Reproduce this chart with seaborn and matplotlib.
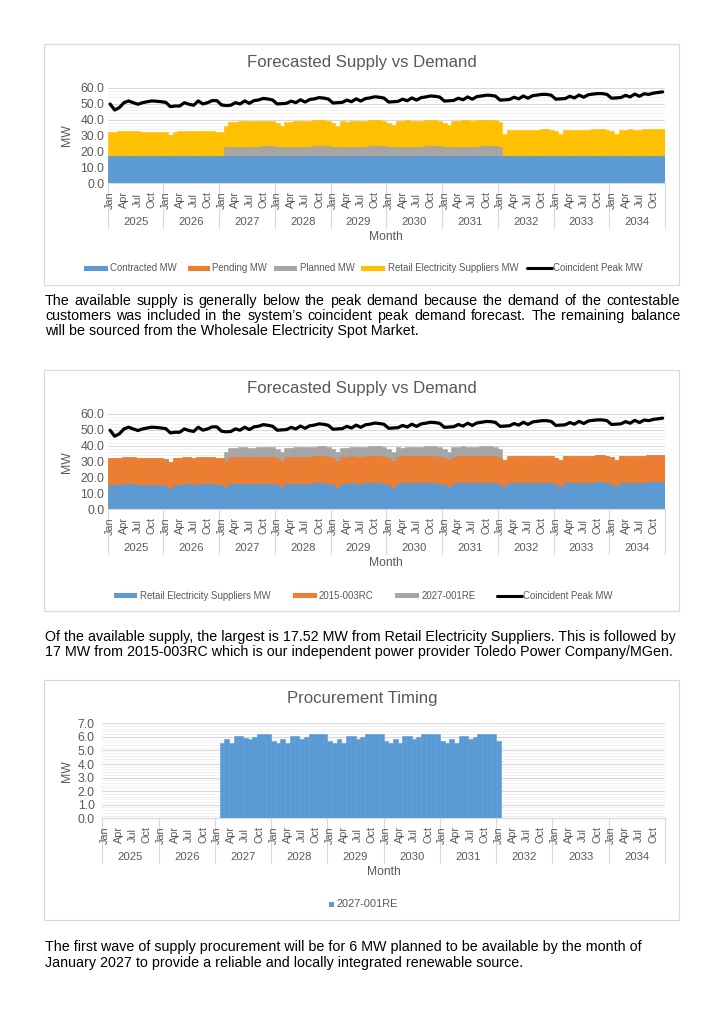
import numpy as np
import pandas as pd
import matplotlib
matplotlib.use("Agg")
import matplotlib.pyplot as plt
from matplotlib.lines import Line2D
from matplotlib.patches import Rectangle
from matplotlib.ticker import MultipleLocator, FormatStrFormatter
import seaborn as sns

# ---------------- data ----------------
years = [2025, 2026, 2027, 2028, 2029, 2030, 2031, 2032, 2033, 2034]
month_names = ["Jan", "Feb", "Mar", "Apr", "May", "Jun", "Jul", "Aug", "Sep", "Oct", "Nov", "Dec"]
shown_months = ["Jan", "Apr", "Jul", "Oct"]

contracted_mw = [
    17.0, 17.0, 17.0, 17.0, 17.0, 17.0, 17.0, 17.0, 17.0, 17.0, 17.0, 17.0,
    17.0, 17.0, 17.0, 17.0, 17.0, 17.0, 17.0, 17.0, 17.0, 17.0, 17.0, 17.0,
    17.0, 17.0, 17.0, 17.0, 17.0, 17.0, 17.0, 17.0, 17.0, 17.0, 17.0, 17.0,
    17.0, 17.0, 17.0, 17.0, 17.0, 17.0, 17.0, 17.0, 17.0, 17.0, 17.0, 17.0,
    17.0, 17.0, 17.0, 17.0, 17.0, 17.0, 17.0, 17.0, 17.0, 17.0, 17.0, 17.0,
    17.0, 17.0, 17.0, 17.0, 17.0, 17.0, 17.0, 17.0, 17.0, 17.0, 17.0, 17.0,
    17.0, 17.0, 17.0, 17.0, 17.0, 17.0, 17.0, 17.0, 17.0, 17.0, 17.0, 17.0,
    17.0, 17.0, 17.0, 17.0, 17.0, 17.0, 17.0, 17.0, 17.0, 17.0, 17.0, 17.0,
    17.0, 17.0, 17.0, 17.0, 17.0, 17.0, 17.0, 17.0, 17.0, 17.0, 17.0, 17.0,
    17.0, 17.0, 17.0, 17.0, 17.0, 17.0, 17.0, 17.0, 17.0, 17.0, 17.0, 17.0,
]
pending_mw = [
    0, 0, 0, 0, 0, 0, 0, 0, 0, 0, 0, 0,
    0, 0, 0, 0, 0, 0, 0, 0, 0, 0, 0, 0,
    0, 0, 0, 0, 0, 0, 0, 0, 0, 0, 0, 0,
    0, 0, 0, 0, 0, 0, 0, 0, 0, 0, 0, 0,
    0, 0, 0, 0, 0, 0, 0, 0, 0, 0, 0, 0,
    0, 0, 0, 0, 0, 0, 0, 0, 0, 0, 0, 0,
    0, 0, 0, 0, 0, 0, 0, 0, 0, 0, 0, 0,
    0, 0, 0, 0, 0, 0, 0, 0, 0, 0, 0, 0,
    0, 0, 0, 0, 0, 0, 0, 0, 0, 0, 0, 0,
    0, 0, 0, 0, 0, 0, 0, 0, 0, 0, 0, 0,
]
# 2027-001RE (planned) MW
planned_mw = [
    0, 0, 0, 0, 0, 0, 0, 0, 0, 0, 0, 0,
    0, 0, 0, 0, 0, 0, 0, 0, 0, 0, 0, 0,
    0, 5.55, 5.85, 5.55, 6.07, 6.05, 5.95, 5.85, 5.97, 6.2, 6.2, 6.2,
    5.7, 5.58, 5.85, 5.58, 6.07, 6.05, 5.85, 5.97, 6.2, 6.2, 6.2, 6.2,
    5.7, 5.58, 5.85, 5.58, 6.07, 6.05, 5.85, 5.97, 6.2, 6.2, 6.2, 6.2,
    5.7, 5.58, 5.85, 5.58, 6.07, 6.05, 5.85, 5.97, 6.2, 6.2, 6.2, 6.2,
    5.7, 5.58, 5.85, 5.58, 6.07, 6.05, 5.85, 5.97, 6.2, 6.2, 6.2, 6.2,
    5.72, 0, 0, 0, 0, 0, 0, 0, 0, 0, 0, 0,
    0, 0, 0, 0, 0, 0, 0, 0, 0, 0, 0, 0,
    0, 0, 0, 0, 0, 0, 0, 0, 0, 0, 0, 0,
]
retail_mw = [
    15.0, 15.3, 15.6, 15.8, 15.9, 15.8, 15.6, 15.5, 15.4, 15.3, 15.2, 15.3,
    14.9, 13.0, 15.4, 15.6, 15.7, 15.7, 15.6, 15.7, 15.8, 16.0, 16.0, 15.5,
    15.0, 13.4, 15.7, 15.9, 16.0, 15.9, 15.9, 16.0, 16.1, 16.2, 16.2, 15.8,
    15.1, 13.5, 15.9, 16.1, 16.2, 16.1, 16.1, 16.2, 16.3, 16.4, 16.4, 16.0,
    15.2, 13.6, 16.0, 16.2, 16.3, 16.2, 16.2, 16.3, 16.4, 16.5, 16.5, 16.1,
    15.3, 13.7, 16.1, 16.3, 16.4, 16.3, 16.3, 16.4, 16.5, 16.6, 16.6, 16.2,
    15.4, 13.8, 16.2, 16.4, 16.5, 16.4, 16.4, 16.5, 16.6, 16.7, 16.7, 16.3,
    15.5, 13.9, 16.3, 16.5, 16.6, 16.5, 16.5, 16.6, 16.7, 16.8, 16.8, 16.4,
    15.6, 14.0, 16.4, 16.6, 16.7, 16.6, 16.6, 16.7, 16.8, 16.9, 16.9, 16.5,
    15.7, 14.1, 16.5, 16.7, 16.8, 16.7, 16.7, 16.8, 16.9, 17.0, 17.1, 16.9,
]
peak_mw = [
    49.8, 46.0, 47.5, 50.6, 51.7, 50.6, 49.6, 50.6, 51.2, 51.7, 51.5, 51.2,
    50.8, 48.1, 48.5, 48.5, 50.6, 49.6, 49.0, 51.7, 49.8, 50.6, 51.9, 51.9,
    49.2, 48.8, 49.0, 50.6, 49.8, 51.7, 50.2, 51.9, 52.3, 53.3, 52.9, 52.3,
    49.8, 50.0, 50.2, 51.6, 50.6, 52.4, 51.0, 52.6, 53.0, 53.8, 53.5, 52.9,
    50.4, 50.6, 50.8, 52.2, 51.2, 53.0, 51.6, 53.2, 53.6, 54.3, 54.0, 53.5,
    51.0, 51.2, 51.4, 52.8, 51.8, 53.6, 52.2, 53.8, 54.2, 54.8, 54.6, 54.1,
    51.6, 51.8, 52.0, 53.4, 52.4, 54.2, 52.8, 54.4, 54.8, 55.3, 55.2, 54.7,
    52.2, 52.4, 52.6, 54.0, 53.0, 54.8, 53.4, 55.0, 55.4, 55.8, 55.8, 55.3,
    52.8, 53.0, 53.2, 54.6, 53.6, 55.4, 54.0, 55.6, 56.0, 56.3, 56.3, 55.8,
    53.4, 53.6, 53.8, 55.2, 54.2, 56.0, 54.6, 56.2, 55.8, 56.6, 57.0, 57.4,
]
rc_2015_003_mw = contracted_mw  # 2015-003RC (Toledo Power Company/MGen)
re_2027_001_mw = planned_mw

# ---------------- style ----------------
sns.set_theme(style="white")
plt.rcParams["font.family"] = ["Liberation Sans", "DejaVu Sans"]

W, H = 724, 1024
fig = plt.figure(figsize=(W / 100, H / 100), dpi=100)
fig.patch.set_facecolor("white")

BLUE, ORANGE, GRAY, YELLOW = "#5B9BD5", "#ED7D31", "#A5A5A5", "#FFC000"
TXT = "#595959"
GRID = "#D9D9D9"
MINOR = "#EFEFEF"

n = len(peak_mw)
idx = np.arange(n)
df = pd.DataFrame({
    "i": idx,
    "contracted": contracted_mw,
    "pending": pending_mw,
    "planned": planned_mw,
    "retail": retail_mw,
    "peak": peak_mw,
    "rc": rc_2015_003_mw,
    "re": re_2027_001_mw,
})


def fx(x):
    return x / W


def fy(y):
    return 1 - y / H


def make_axes(x0, x1, ytop, ybot):
    return fig.add_axes([fx(x0), fy(ybot), (x1 - x0) / W, (ybot - ytop) / H])


def style_axes(ax, ymax, major, minor, x0, x1, ytop, ybot, year_y, month_y,
               title, title_y, ypad):
    ax.set_xlim(-0.5, n - 0.5)
    ax.set_ylim(0, ymax)
    ax.yaxis.set_major_locator(MultipleLocator(major))
    ax.yaxis.set_minor_locator(MultipleLocator(minor))
    ax.yaxis.set_major_formatter(FormatStrFormatter("%.1f"))
    ax.grid(axis="y", which="major", color=GRID, lw=0.8, zorder=0)
    ax.grid(axis="y", which="minor", color=MINOR, lw=0.6, zorder=0)
    ax.set_axisbelow(True)
    for s in ["top", "right", "left"]:
        ax.spines[s].set_visible(False)
    ax.spines["bottom"].set_color(GRID)
    ax.spines["bottom"].set_linewidth(0.8)
    ax.set_xticks([])
    ax.tick_params(axis="y", which="both", length=0, pad=ypad, labelsize=8.8, labelcolor=TXT)
    ax.set_xlabel("")
    ax.set_ylabel("")
    slot = (x1 - x0) / n
    # month labels (centered, rotated)
    for k in range(len(years)):
        for m, name in zip((0, 3, 6, 9), shown_months):
            xc = x0 + (k * 12 + m + 0.5) * slot
            fig.text(fx(xc), fy(ybot + 16.5), name, ha="center", va="center",
                     rotation=90, fontsize=7.8, color=TXT)
    # year group separators
    for k in range(len(years) + 1):
        xp = x0 + k * 12 * slot
        fig.add_artist(Line2D([fx(xp), fx(xp)], [fy(ybot), fy(ybot + 45)],
                              color=GRID, lw=0.8, transform=fig.transFigure))
    for k, yr in enumerate(years):
        xc = x0 + (k * 12 + 6) * slot
        fig.text(fx(xc), fy(year_y), str(yr), ha="center", va="center",
                 fontsize=8.1, color=TXT)
    fig.text(fx((x0 + x1) / 2), fy(month_y), "Month", ha="center", va="center",
             fontsize=8.7, color=TXT)
    fig.text(fx(67), fy((ytop + ybot) / 2), "MW", ha="center", va="center",
             rotation=90, fontsize=8.8, color=TXT)
    fig.text(fx(362), fy(title_y), title, ha="center", va="center",
             fontsize=12.1, color=TXT)


def bar_layer(ax, col, color):
    sns.barplot(data=df, x="i", y=col, color=color, saturation=1, width=1.0,
                linewidth=0.4, edgecolor=color, errorbar=None, ax=ax, zorder=2)


def box(x0, y0, x1, y1):
    fig.add_artist(Rectangle((fx(x0), fy(y1)), (x1 - x0) / W, (y1 - y0) / H,
                             fill=False, edgecolor=GRID, lw=0.8, transform=fig.transFigure))


def legend_patch(x0, x1, y, color, h=5):
    fig.add_artist(Rectangle((fx(x0), fy(y + h / 2)), (x1 - x0) / W, h / H,
                             facecolor=color, edgecolor="none", transform=fig.transFigure))


def legend_line(x0, x1, y):
    fig.add_artist(Line2D([fx(x0), fx(x1)], [fy(y), fy(y)], color="black", lw=2.2,
                          transform=fig.transFigure))


def legend_text(x, y, s, size=6.9):
    fig.text(fx(x), fy(y), s, ha="left", va="center", fontsize=size, color=TXT)


# ---------------- chart 1 ----------------
box(44, 44, 679, 285)
X0, X1 = 107.7, 665.0
ax1 = make_axes(X0, X1, 87.7, 183.3)
df["c1_l4"] = df.contracted + df.pending + df.planned + df.retail
df["c1_l3"] = df.contracted + df.pending + df.planned
df["c1_l2"] = df.contracted + df.pending
bar_layer(ax1, "c1_l4", YELLOW)
bar_layer(ax1, "c1_l3", GRAY)
bar_layer(ax1, "c1_l2", ORANGE)
bar_layer(ax1, "contracted", BLUE)
sns.lineplot(x=idx, y=df["peak"].values, color="black", lw=2.3, ax=ax1, zorder=3)
style_axes(ax1, 60, 10, 2, X0, X1, 87.7, 183.3, 222, 237,
           "Forecasted Supply vs Demand", 63, 2.5)

legend_patch(84.3, 107.7, 268.3, BLUE)
legend_text(110, 268.3, "Contracted MW")
legend_patch(188, 210, 268.3, ORANGE)
legend_text(211.5, 268.3, "Pending MW")
legend_patch(274.3, 297.3, 268.3, GRAY)
legend_text(299.7, 268.3, "Planned MW")
legend_patch(361, 385, 268.3, YELLOW)
legend_text(388, 268.3, "Retail Electricity Suppliers MW")
legend_line(526.7, 551.7, 268.3)
legend_text(553, 268.3, "Coincident Peak MW")

# ---------------- chart 2 ----------------
box(44, 370, 679, 611)
ax2 = make_axes(X0, X1, 414.0, 509.3)
df["c2_l3"] = df.retail + df.rc + df.re
df["c2_l2"] = df.retail + df.rc
bar_layer(ax2, "c2_l3", GRAY)
bar_layer(ax2, "c2_l2", ORANGE)
bar_layer(ax2, "retail", BLUE)
sns.lineplot(x=idx, y=df["peak"].values, color="black", lw=2.3, ax=ax2, zorder=3)
style_axes(ax2, 60, 10, 2, X0, X1, 414.0, 509.3, 548, 563,
           "Forecasted Supply vs Demand", 389, 2.5)

legend_patch(114, 137.3, 595.7, BLUE)
legend_text(140, 595.7, "Retail Electricity Suppliers MW")
legend_patch(293.3, 316.7, 595.7, ORANGE)
legend_text(319, 595.7, "2015-003RC")
legend_patch(395, 419.3, 595.7, GRAY)
legend_text(421.7, 595.7, "2027-001RE")
legend_line(496.7, 521.7, 595.7)
legend_text(523.3, 595.7, "Coincident Peak MW")

# ---------------- chart 3 ----------------
box(44, 680, 679, 920)
X30 = 102.3
ax3 = make_axes(X30, X1, 723.3, 818.3)
bar_layer(ax3, "re", BLUE)
style_axes(ax3, 7, 1, 0.2, X30, X1, 723.3, 818.3, 857, 872,
           "Procurement Timing", 699, 5.5)
legend_patch(329, 334, 904, BLUE, h=5)
legend_text(336.5, 904, "2027-001RE", size=7.9)

# ---------------- body text ----------------
BODY = 10.3
renderer = fig.canvas.get_renderer()


def justified(line, x0, x1, y):
    words = line.split()
    widths = []
    for w in words:
        t = fig.text(0, 0, w, fontsize=BODY)
        widths.append(t.get_window_extent(renderer).width)
        t.remove()
    gap = ((x1 - x0) - sum(widths)) / (len(words) - 1)
    x = x0
    for w, wd in zip(words, widths):
        fig.text(fx(x), fy(y), w, ha="left", va="center", fontsize=BODY, color="black")
        x += wd + gap


def plain(line, x0, y):
    fig.text(fx(x0), fy(y), line, ha="left", va="center", fontsize=BODY, color="black")


justified("The available supply is generally below the peak demand because the demand of the contestable", 45, 680, 301)
justified("customers was included in the system\u2019s coincident peak demand forecast. The remaining balance", 45, 680, 316)
plain("will be sourced from the Wholesale Electricity Spot Market.", 45, 331)

plain("Of the available supply, the largest is 17.52 MW from Retail Electricity Suppliers. This is followed by", 45, 637)
plain("17 MW from 2015-003RC which is our independent power provider Toledo Power Company/MGen.", 45, 652)

plain("The first wave of supply procurement will be for 6 MW planned to be available by the month of", 45, 947)
plain("January 2027 to provide a reliable and locally integrated renewable source.", 45, 963)

fig.savefig("out.png", dpi=100, facecolor="white")
